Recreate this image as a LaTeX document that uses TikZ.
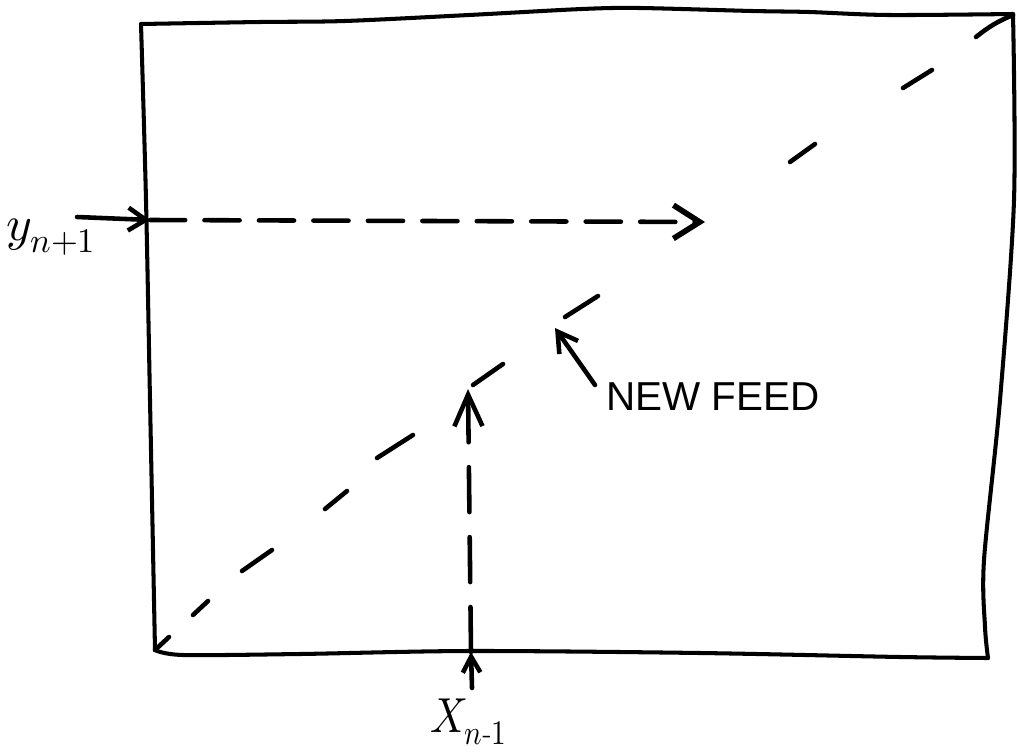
\documentclass[tikz,border=0pt]{standalone}
\usepackage{fontspec}
\usepackage{unicode-math}
\setmathfont{Latin Modern Math}
\newfontfamily\handfont{Liberation Sans}
\usetikzlibrary{arrows.meta}
\tikzset{
  boxline/.style={line width=2.3pt, line join=round, line cap=round},
  pen/.style={line width=2.6pt, line cap=round},
  diagdash/.style={line width=2.6pt, line cap=round},
  lab/.style={inner sep=0pt, font=\fontsize{28}{32}\selectfont},
  feedlab/.style={inner sep=0pt, font=\handfont\fontsize{23}{28}\selectfont},
}
\begin{document}
\begin{tikzpicture}[x=0.02cm,y=-0.02cm]
\useasboundingbox (0,0) rectangle (1017,753);
% box
\coordinate (TL) at (141,24);
\coordinate (TR) at (1013,14);
\coordinate (BR) at (988,658);
\coordinate (BL) at (155,650);
\draw[boxline] plot[smooth, tension=0.5] coordinates {(141,24) (260,22) (345,21) (469,15) (582,9) (639,8) (752,11) (809,12) (888,15) (1013,14)};
\draw[boxline] plot[smooth, tension=0.5] coordinates {(1013,14) (1014,200) (1000,400) (984,560) (985,627) (988,658)};
\draw[boxline] plot[smooth, tension=0.5] coordinates {(141,24) (146,200) (150,400) (155,650)};
\draw[boxline] plot[smooth, tension=0.5] coordinates {(155,650) (183,655) (300,654) (470,651) (700,653) (900,657) (988,658)};
% diagonal feed line
\draw[diagdash] (155,650) -- (169,637);
\draw[diagdash] (193,615) -- (208,601);
\draw[diagdash] (242,571) -- (272,550);
\draw[diagdash] (325,509) -- (347,491);
\draw[diagdash] (377,458) -- (413,435);
\draw[diagdash] (473,385) -- (503,364);
\draw[diagdash] (565,317) -- (598,296);
\draw[diagdash] (790,162) -- (815,144);
\draw[diagdash] (903,88) -- (932,70);
\draw[diagdash] (976,37) to[bend left=8] (1013,15);
% labels
\node[lab, anchor=base west] (ylab) at (6,240) {$y_{n+1}$};
\node[lab, anchor=base west] (xlab) at (430,732) {\scalebox{0.85}[1]{$X_{n\text{-}1}$}};
\node[feedlab, anchor=west] (feed) at (606,397) {NEW FEED};
% connectors
\coordinate (ytail) at (77,217);
\coordinate (yin) at (150,220);
\coordinate (hend) at (705,222);
\coordinate (xtail) at (472,688);
\coordinate (xin) at (471,652);
\coordinate (vtip) at (468,389);
\coordinate (ftail) at (595,385);
\coordinate (ftip) at (555,328);
\draw[pen, -{Straight Barb[length=10pt,width=13pt]}] (ytail) -- (yin);
\draw[pen, dash pattern=on 20pt off 11pt, -{Straight Barb[length=15pt,width=19pt,line width=3.2pt]}] (yin) -- (hend);
\draw[pen, -{Straight Barb[length=9pt,width=10pt]}] (xtail) -- (xin);
\draw[pen, dash pattern=on 25.6pt off 14.2pt, -{Straight Barb[length=18pt,width=16pt]}] (xin) -- (vtip);
\draw[pen, -{Straight Barb[length=11pt,width=13pt]}] (ftail) -- (ftip);
\end{tikzpicture}
\end{document}
